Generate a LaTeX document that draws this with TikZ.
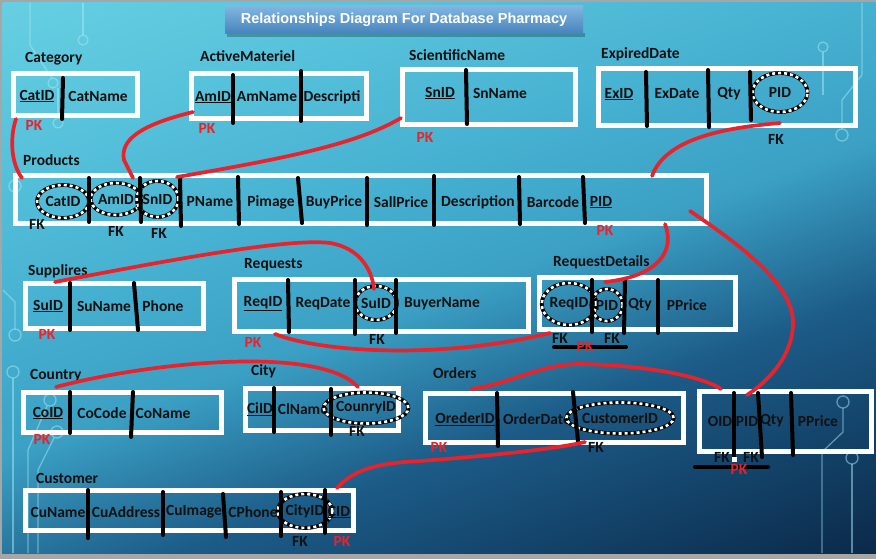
\documentclass[tikz,border=0pt]{standalone}
\usepackage{fontspec}
\setmainfont{Carlito}
\newfontfamily\headfont{Liberation Sans}
\usetikzlibrary{shapes.geometric}

\definecolor{relred}{HTML}{E8232B}
\definecolor{ink}{HTML}{111111}
\definecolor{ttop}{HTML}{80B6E0}
\definecolor{tbot}{HTML}{4683BC}
\definecolor{wirec}{HTML}{A8EAF4}

\pgfdeclareverticalshading{bgshade}{100bp}{
  color(0bp)=(rgb,255:red,10;green,40;blue,72);
  color(25bp)=(rgb,255:red,10;green,40;blue,72);
  color(40bp)=(rgb,255:red,28;green,92;blue,136);
  color(49bp)=(rgb,255:red,59;green,160;blue,196);
  color(56bp)=(rgb,255:red,69;green,175;blue,208);
  color(65bp)=(rgb,255:red,85;green,192;blue,218);
  color(75bp)=(rgb,255:red,102;green,207;blue,226);
  color(100bp)=(rgb,255:red,102;green,207;blue,226)}

\tikzset{
  tbl/.style={draw=white, line width=5pt, inner sep=0pt},
  fld/.style={font=\fontsize{15.5}{16}\selectfont\bfseries, text=ink, inner sep=0pt},
  tname/.style={fld, anchor=west},
  pk/.style={fld, text=relred},
  fk/.style={fld},
  fkring/.style={ellipse, fld, draw=white, line width=2.6pt, dash pattern=on 3pt off 3pt,
    preaction={draw=black, solid, line width=3.8pt}},
  bar/.style={draw=black, line width=4pt, line cap=round},
  rel/.style={draw=relred, line width=3.7pt, line cap=round},
  wire/.style={draw=wirec, line width=1.3pt, opacity=.5},
}

\begin{document}
\begin{tikzpicture}[x=1pt,y=-1pt]
  \useasboundingbox (0,0) rectangle (876,559);
  % background
  \fill[gray!70] (0,0) rectangle (876,559);
  \begin{scope}
    \clip (2,3) rectangle (876,553);
    \begin{scope}[transform canvas={rotate around={20:(2,3)}}]
      \shade[shading=bgshade] (-398,3) rectangle (1002,825);
    \end{scope}
  \end{scope}
  \draw[wire] (30,3) -- (30,45) -- (52,78);
  \draw[wire] (53,83) circle (5);
  \draw[wire] (58,88) -- (58,118);
  \draw[wire] (58,123) circle (5);
  \draw[wire] (83,3) -- (83,35);
  \draw[wire] (83,40) circle (5);
  \draw[wire] (15,186) circle (6);
  \draw[wire] (3,290) -- (15,302) -- (15,329);
  \draw[wire] (15,335) circle (6);
  \draw[wire] (13,372) circle (6);
  \draw[wire] (13,378) -- (13,553);
  \draw[wire] (50,400) circle (6);
  \draw[wire] (47,406) -- (28,450) -- (28,553);
  \draw[wire] (57,432) circle (6);
  \draw[wire] (54,438) -- (38,470) -- (38,553);
  \draw[wire] (823,47) circle (5);
  \draw[wire] (823,52) -- (823,95);
  \draw[wire] (862,3) -- (862,75) -- (842,100) -- (842,129);
  \draw[wire] (842,135) circle (6);
  \draw[wire] (843,402) circle (6);
  \draw[wire] (843,408) -- (843,432) -- (822,452) -- (822,553);
  \draw[wire] (852,458) circle (6);
  \draw[wire] (852,464) -- (852,553);

  % title
  \fill[black, opacity=.25] (227,33) rectangle (585,37);
  \node[top color=ttop, bottom color=tbot, minimum width=358, minimum height=28, inner sep=0pt,
    font=\headfont\bfseries\fontsize{14.5}{14.5}\selectfont, text=white] (title) at (404,20)
    {Relationships Diagram For Database Pharmacy};

  % tables
  \node[tbl, minimum width=124, minimum height=42] (cat) at (75,95) {};
  \node[tbl, minimum width=175, minimum height=45] (am) at (278.5,96.5) {};
  \node[tbl, minimum width=173, minimum height=55] (sn) at (488.5,97.5) {};
  \node[tbl, minimum width=257, minimum height=57] (ex) at (726.5,97.5) {};
  \node[tbl, minimum width=691, minimum height=47] (prod) at (360.5,199.5) {};
  \node[tbl, minimum width=178, minimum height=45] (sup) at (114,305.5) {};
  \node[tbl, minimum width=294, minimum height=52] (req) at (381,305) {};
  \node[tbl, minimum width=196, minimum height=52] (rd) at (637,303) {};
  \node[tbl, minimum width=198, minimum height=40] (cty) at (122,412) {};
  \node[tbl, minimum width=153, minimum height=42] (city) at (321.5,409) {};
  \node[tbl, minimum width=258, minimum height=49] (ord) at (554,417.5) {};
  \node[tbl, minimum width=172, minimum height=60] (od) at (785,421) {};
  \node[tbl, minimum width=328, minimum height=40] (cus) at (189,510) {};

  % table names
  \node[tname] (catname) at (25,59) {Category};
  \node[tname] (amname) at (200,56) {ActiveMateriel};
  \node[tname] (snname) at (409,55) {ScientificName};
  \node[tname] (exname) at (601,54) {ExpiredDate};
  \node[tname] (prodname) at (23,160) {Products};
  \node[tname] (supname) at (28,271) {Supplires};
  \node[tname] (reqname) at (244,265) {Requests};
  \node[tname] (rdname) at (553,262) {RequestDetails};
  \node[tname] (ctyname) at (30,376) {Country};
  \node[tname] (cityname) at (251,371) {City};
  \node[tname] (ordname) at (433,373) {Orders};
  \node[tname] (cusname) at (36,478) {Customer};

  % Category
  \node[fld] (c1) at (37,96) {\underline{CatID}};
  \node[fld] (c2) at (98,96) {CatName};
  \draw[bar] (63,78) -- (62,119);
  \node[pk] (c1pk) at (34,125) {PK};
  % ActiveMateriel
  \node[fld] (a1) at (213,97) {\underline{AmID}};
  \node[fld] (a2) at (267,97) {AmName};
  \node[fld] (a3) at (332,97) {Descripti};
  \draw[bar] (233,75) -- (233,123);
  \draw[bar] (301,71) -- (301,121);
  \node[pk] (a1pk) at (207,128) {PK};
  % ScientificName
  \node[fld] (s1) at (440,93) {\underline{SnID}};
  \node[fld] (s2) at (500,93) {SnName};
  \draw[bar] (466,70) -- (467,124);
  \node[pk] (s1pk) at (425,137) {PK};
  % ExpiredDate
  \node[fld] (e1) at (619,94) {\underline{ExID}};
  \node[fld] (e2) at (677,94) {ExDate};
  \node[fld] (e3) at (729,94) {Qty};
  \node[fkring, minimum width=55, minimum height=39] (e4) at (780,92.5) {PID};
  \draw[bar] (646,72) -- (647,126);
  \draw[bar] (708,70) -- (709,127);
  \draw[bar] (750,72) -- (751,120);
  \node[fk] (e4fk) at (776,139) {FK};
  % Products
  \node[fkring, minimum width=52, minimum height=33] (p1) at (63,201.5) {CatID};
  \node[fkring, minimum width=44, minimum height=32] (p2) at (116,199) {AmID};
  \node[fkring, minimum width=37, minimum height=36] (p3) at (157.5,199) {SnID};
  \node[fld] (p4) at (210,202) {PName};
  \node[fld] (p5) at (271,202) {Pimage};
  \node[fld] (p6) at (334,202) {BuyPrice};
  \node[fld] (p7) at (401,202) {SallPrice};
  \node[fld] (p8) at (478,202) {Description};
  \node[fld] (p9) at (553,202) {Barcode};
  \node[fld] (p10) at (601,202) {\underline{PID}};
  \draw[bar] (89,178) -- (89,222);
  \draw[bar] (140,178) -- (141,222);
  \draw[bar] (180,178) -- (181,226);
  \draw[bar] (238,177) -- (239,224);
  \draw[bar] (298,178) -- (302,223);
  \draw[bar] (367,178) -- (367,225);
  \draw[bar] (434,176) -- (434,225);
  \draw[bar] (519,177) -- (520,224);
  \draw[bar] (583,177) -- (585,223);
  \node[fk] (p1fk) at (37,224) {FK};
  \node[fk] (p2fk) at (116,231) {FK};
  \node[fk] (p3fk) at (159,233) {FK};
  \node[pk] (p10pk) at (605,230) {PK};
  % Supplires
  \node[fld] (u1) at (48,306) {\underline{SuID}};
  \node[fld] (u2) at (104,306) {SuName};
  \node[fld] (u3) at (163,306) {Phone};
  \draw[bar] (70,283) -- (70,330);
  \draw[bar] (134,283) -- (138,330);
  \node[pk] (u1pk) at (47,334) {PK};
  % Requests
  \node[fld] (r1) at (263,304) {\underline{ReqID}};
  \node[fld] (r2) at (323,304) {ReqDate};
  \node[fkring, minimum width=40, minimum height=34] (r3) at (376,303) {SuID};
  \node[fld] (r4) at (442,304) {BuyerName};
  \draw[bar] (288,280) -- (289,332);
  \draw[bar] (355,280) -- (355,334);
  \draw[bar] (396,280) -- (396,333);
  \node[fk] (r3fk) at (377,339) {FK};
  \node[pk] (r1pk) at (253,342) {PK};
  % RequestDetails
  \node[fkring, minimum width=53, minimum height=42] (d1) at (569,304) {ReqID};
  \node[fkring, minimum width=31, minimum height=32] (d2) at (607,305) {PID};
  \node[fld] (d3) at (640,305) {Qty};
  \node[fld] (d4) at (687,305) {PPrice};
  \draw[bar] (592,280) -- (592,332);
  \draw[bar] (625,280) -- (624,333);
  \draw[bar] (658,280) -- (658,333);
  \node[fk] (d1fk) at (560,338) {FK};
  \node[fk] (d2fk) at (612,338) {FK};
  \draw[bar] (554,347) -- (626,347);
  \node[pk] (d12pk) at (585,346) {PK};
  % Country
  \node[fld] (o1) at (48,413) {\underline{CoID}};
  \node[fld] (o2) at (102,413) {CoCode};
  \node[fld] (o3) at (163,413) {CoName};
  \draw[bar] (70,392) -- (70,433);
  \draw[bar] (133,392) -- (131,437);
  \node[pk] (o1pk) at (42,439) {PK};
  % City
  \node[fld] (t1) at (260,409) {\underline{CiID}};
  \node[fld] (t2) at (303,409) {ClName};
  \node[fkring, minimum width=67, minimum height=31] (t3) at (366,408) {CounryID};
  \draw[bar] (274,388) -- (274,432);
  \draw[bar] (331,389) -- (331,435);
  \node[fk] (t3fk) at (357,431) {FK};
  % Orders
  \node[fld] (w1) at (465,419) {\underline{OrederID}};
  \node[fld] (w2) at (537,419) {OrderDate};
  \node[fkring, minimum width=90, minimum height=31] (w3) at (620,418) {CustomerID};
  \draw[bar] (497,393) -- (498,446);
  \draw[bar] (573,392) -- (578,441);
  \node[fk] (w3fk) at (596,447) {FK};
  \node[pk] (w1pk) at (439,447) {PK};
  % order details
  \node[fld] (v1) at (720,421) {OID};
  \node[fld] (v2) at (747,421) {PID};
  \node[fld] (v3) at (772,421) {Qty};
  \node[fld] (v4) at (818,421) {PPrice};
  \draw[bar] (734,393) -- (734,460);
  \draw[bar] (758,393) -- (762,457);
  \draw[bar] (791,393) -- (793,455);
  \node[fk] (v1fk) at (722,457) {FK};
  \node[fk] (v2fk) at (751,457) {FK};
  \fill[white] (732,457) rectangle (737,462);
  \draw[bar] (695,467) -- (768,467);
  \node[pk] (v12pk) at (739,469) {PK};
  % Customer
  \node[fld] (m1) at (58,512) {CuName};
  \node[fld] (m2) at (126,512) {CuAddress};
  \node[fld] (m3) at (194,512) {CuImage};
  \node[fld] (m4) at (253,512) {CPhone};
  \node[fkring, minimum width=42, minimum height=34] (m5) at (305,511) {CityID};
  \node[fld] (m6) at (339,512) {\underline{CID}};
  \draw[bar] (88,490) -- (88,538);
  \draw[bar] (163,492) -- (163,535);
  \draw[bar] (223,494) -- (226,537);
  \draw[bar] (281,492) -- (281,536);
  \draw[bar] (325,490) -- (325,533);
  \node[fk] (m5fk) at (300,541) {FK};
  \node[pk] (m6pk) at (342,541) {PK};

  % relationship ends
  \coordinate (catpk) at (16,119);
  \coordinate (pcat) at (22,178);
  \coordinate (ampk) at (193,112);
  \coordinate (pam) at (133,178);
  \coordinate (snpk) at (401,118);
  \coordinate (psn) at (177,177);
  \coordinate (expid) at (780,123);
  \coordinate (pexp) at (652,176);
  \coordinate (prd) at (665,224);
  \coordinate (rdpid) at (605,282);
  \coordinate (pod) at (690,211);
  \coordinate (odpid) at (747,395);
  \coordinate (supid) at (55,282);
  \coordinate (reqsu) at (374,289);
  \coordinate (reqpk) at (275,334);
  \coordinate (rdreq) at (550,333);
  \coordinate (copk) at (56,387);
  \coordinate (cityco) at (358,387);
  \coordinate (ordpk) at (471,389);
  \coordinate (odoid) at (721,389);
  \coordinate (cuscid) at (337,488);
  \coordinate (ordcu) at (585,442);

  % relationships
  \draw[rel] (catpk) .. controls (9,140) and (12,165) .. (pcat);
  \draw[rel] (ampk) .. controls (140,125) and (120,140) .. (124,160) -- (pam);
  \draw[rel] (snpk) .. controls (360,142) and (300,156) .. (psn);
  \draw[rel] (expid) .. controls (720,128) and (665,140) .. (pexp);
  \draw[rel] (prd) .. controls (675,250) and (660,276) .. (rdpid);
  \draw[rel] (pod) .. controls (740,245) and (795,285) .. (793,325) .. controls (792,355) and (770,380) .. (odpid);
  \draw[rel] (supid) .. controls (180,258) and (290,238) .. (330,243) .. controls (360,248) and (372,270) .. (reqsu);
  \draw[rel] (reqpk) .. controls (320,352) and (440,360) .. (rdreq);
  \draw[rel] (copk) .. controls (150,362) and (320,345) .. (cityco);
  \draw[rel] (ordpk) .. controls (510,384) and (540,364) .. (580,364) .. controls (640,365) and (700,375) .. (odoid);
  \draw[rel] (cuscid) .. controls (355,468) and (380,463) .. (420,461) .. controls (500,455) and (560,448) .. (ordcu);
\end{tikzpicture}
\end{document}
